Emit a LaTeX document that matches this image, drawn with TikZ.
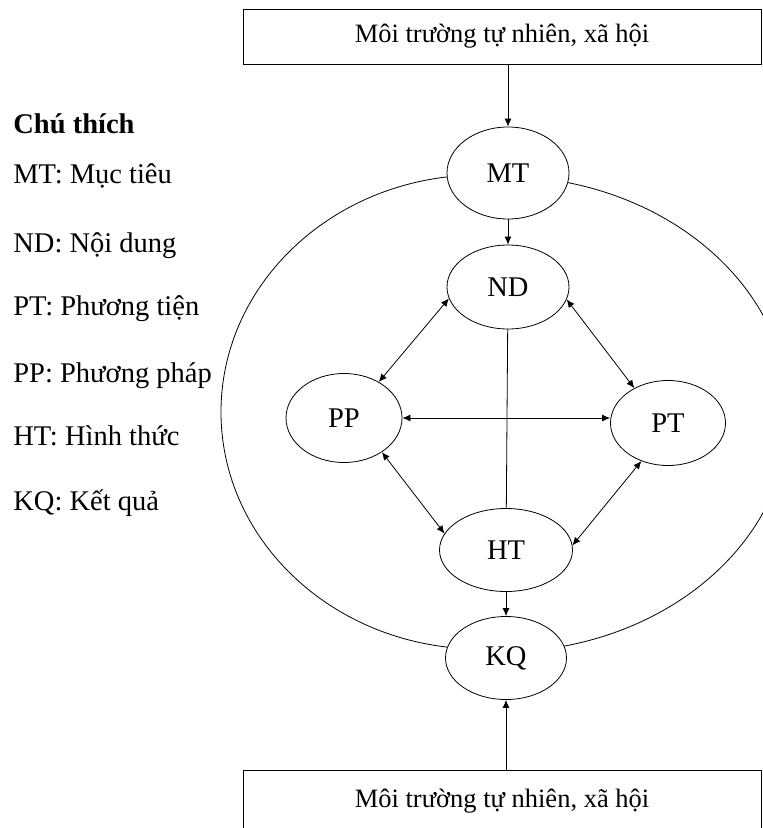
\documentclass[tikz,border=0pt]{standalone}
\usepackage{fontspec}
\setmainfont{Liberation Serif}
\usetikzlibrary{shapes.geometric, arrows.meta}

\begin{document}
\begin{tikzpicture}[
    x=1pt, y=-1pt, line width=0.8pt, >={Latex[length=8pt,width=7pt]},
    every node/.style={font=\fontsize{28.5}{32}\selectfont},
    oval/.style={ellipse, draw, fill=white, inner sep=0pt},
    envbox/.style={rectangle, draw, fill=white, minimum width=518pt, inner sep=0pt, font=\fontsize{26.5}{30}\selectfont},
    legend/.style={anchor=base west, inner sep=0pt}
]
    \clip (0,0) rectangle (763,828);

    % Outer ring: two arcs, their ends hidden under MT and KQ
    \draw ([shift={(480,412)}]270:259 and 237) arc[start angle=270, end angle=90, x radius=259, y radius=237];
    \draw ([shift={(500,414)}]-90:289 and 238) arc[start angle=-90, end angle=90, x radius=289, y radius=238];

    % Environment boxes
    \node[envbox, minimum height=55pt] (ENVTOP) at (502,36.5) {Môi trường tự nhiên, xã hội};
    \node[envbox, minimum height=62pt, anchor=north] (ENVBOT) at (502,770) {Môi trường tự nhiên, xã hội};

    % Components
    \node[oval, minimum width=122pt, minimum height=92pt] (MT) at (508,173) {MT};
    \node[oval, minimum width=122pt, minimum height=84pt] (ND) at (508,287) {ND};
    \node[oval, minimum width=116pt, minimum height=89pt] (PP) at (344,418) {PP};
    \node[oval, minimum width=115pt, minimum height=85pt] (PT) at (668,423) {PT};
    \node[oval, minimum width=133pt, minimum height=83pt] (HT) at (506,550) {HT};
    \node[oval, minimum width=121pt, minimum height=83pt] (KQ) at (506,658) {KQ};

    % Main axis
    \draw[->] (MT |- ENVTOP.south) -- (MT);
    \draw[->] (MT) -- (ND);
    \draw (ND) -- (HT);
    \draw[->] (HT) -- (KQ);
    \draw[->] (KQ |- ENVBOT.north) -- (KQ);

    % Two-way links
    \draw[<->] (ND.191) -- (PP.46);
    \draw[<->] (ND.348) -- (PT.134);
    \draw[<->] (PP.318) -- (HT.165);
    \draw[<->] (PT.235) -- (HT.4);
    \draw[<->] (PP.east) -- (PP.east -| PT.west);

    % Legend
    \node[legend, font=\fontsize{28.5}{32}\selectfont\bfseries] (LEG) at (13,133) {Chú thích};
    \node[legend] (LMT) at (13,183) {MT: Mục tiêu};
    \node[legend] (LND) at (13,252) {ND: Nội dung};
    \node[legend] (LPT) at (13,315) {PT: Phương tiện};
    \node[legend] (LPP) at (13,382) {PP: Phương pháp};
    \node[legend] (LHT) at (13,445) {HT: Hình thức};
    \node[legend] (LKQ) at (13,510) {KQ: Kết quả};

\end{tikzpicture}
\end{document}
